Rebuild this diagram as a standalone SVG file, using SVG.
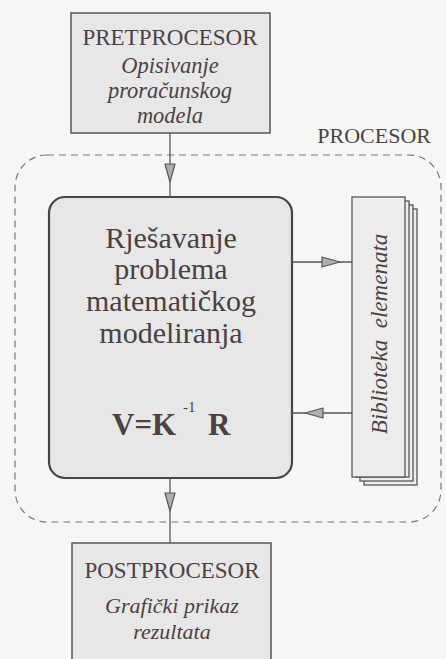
<svg xmlns="http://www.w3.org/2000/svg" width="446" height="659" viewBox="0 0 446 659">
<style>
  .bg { fill: #f6f6f5; }
  .box { fill: #e8e7e7; stroke: #5a5555; stroke-width: 1.5; }
  .main { fill: #e8e7e7; stroke: #4a4545; stroke-width: 2.2; }
  .t { fill: #4a4242; text-anchor: middle; }
  .it { font-style: italic; }
  .line { stroke: #5a5555; stroke-width: 1.3; fill: none; }
  .tri { fill: #b0adad; stroke: #5a5555; stroke-width: 1.2; stroke-linejoin: round; }
  .dash { fill: none; stroke: #7a7575; stroke-width: 1.2; stroke-dasharray: 7 5; }
  .page { fill: #eeeded; stroke: #5a5555; stroke-width: 1.3; }
</style>
<rect class="bg" x="0" y="0" width="446" height="659"/>

<g id="procesor" font-family="Liberation Serif, DejaVu Serif, serif">
  <rect class="dash" x="15" y="155" width="426" height="367" rx="32" ry="32"/>
  <text class="t" x="431" y="143" font-size="22" text-anchor="end" style="text-anchor:end">PROCESOR</text>
</g>

<g id="connectors">
  <line class="line" x1="170" y1="133" x2="170" y2="197"/>
  <polygon class="tri" points="165,164 175,164 170,182"/>
  <line class="line" x1="293" y1="262" x2="352" y2="262"/>
  <polygon class="tri" points="322,257 322,267 340,262"/>
  <line class="line" x1="293" y1="413" x2="352" y2="413"/>
  <polygon class="tri" points="323,408 323,418 305,413"/>
  <line class="line" x1="170" y1="478" x2="170" y2="543"/>
  <polygon class="tri" points="165,493 175,493 170,511"/>
</g>

<g id="pretprocesor" font-family="Liberation Serif, DejaVu Serif, serif">
  <rect class="box" x="71" y="13" width="199" height="120"/>
  <text class="t" x="170" y="45" font-size="23">PRETPROCESOR</text>
  <text class="t it" x="170" y="73" font-size="22.5">Opisivanje</text>
  <text class="t it" x="170" y="98" font-size="22.5">proračunskog</text>
  <text class="t it" x="170" y="123" font-size="22.5">modela</text>
</g>

<g id="rjesavanje" font-family="Liberation Serif, DejaVu Serif, serif">
  <rect class="main" x="49" y="197" width="243" height="281" rx="16" ry="16"/>
  <text class="t" x="171" y="248" font-size="30">Rješavanje</text>
  <text class="t" x="171" y="279" font-size="30">problema</text>
  <text class="t" x="171" y="311" font-size="30">matematičkog</text>
  <text class="t" x="171" y="343" font-size="30">modeliranja</text>
  <text class="t" x="112" y="435" font-size="31" font-weight="bold" style="text-anchor:start">V=K</text>
  <text class="t" x="183" y="412" font-size="15" style="text-anchor:start">-1</text>
  <text class="t" x="208" y="435" font-size="31" font-weight="bold" style="text-anchor:start">R</text>
</g>

<g id="biblioteka" font-family="Liberation Serif, DejaVu Serif, serif">
  <rect class="page" x="364" y="209" width="53" height="276"/>
  <rect class="page" x="360" y="205" width="53" height="276"/>
  <rect class="page" x="356" y="201" width="53" height="276"/>
  <rect class="page" x="352" y="197" width="53" height="280"/>
  <text class="t it" transform="translate(387,334) rotate(-90)" font-size="23" xml:space="preserve" style="white-space:pre">Biblioteka  elemenata</text>
</g>

<g id="postprocesor" font-family="Liberation Serif, DejaVu Serif, serif">
  <rect class="box" x="72" y="543" width="199" height="130"/>
  <text class="t" x="172" y="578" font-size="23">POSTPROCESOR</text>
  <text class="t it" x="172" y="613" font-size="22">Grafički prikaz</text>
  <text class="t it" x="172" y="639" font-size="22">rezultata</text>
</g>
</svg>
